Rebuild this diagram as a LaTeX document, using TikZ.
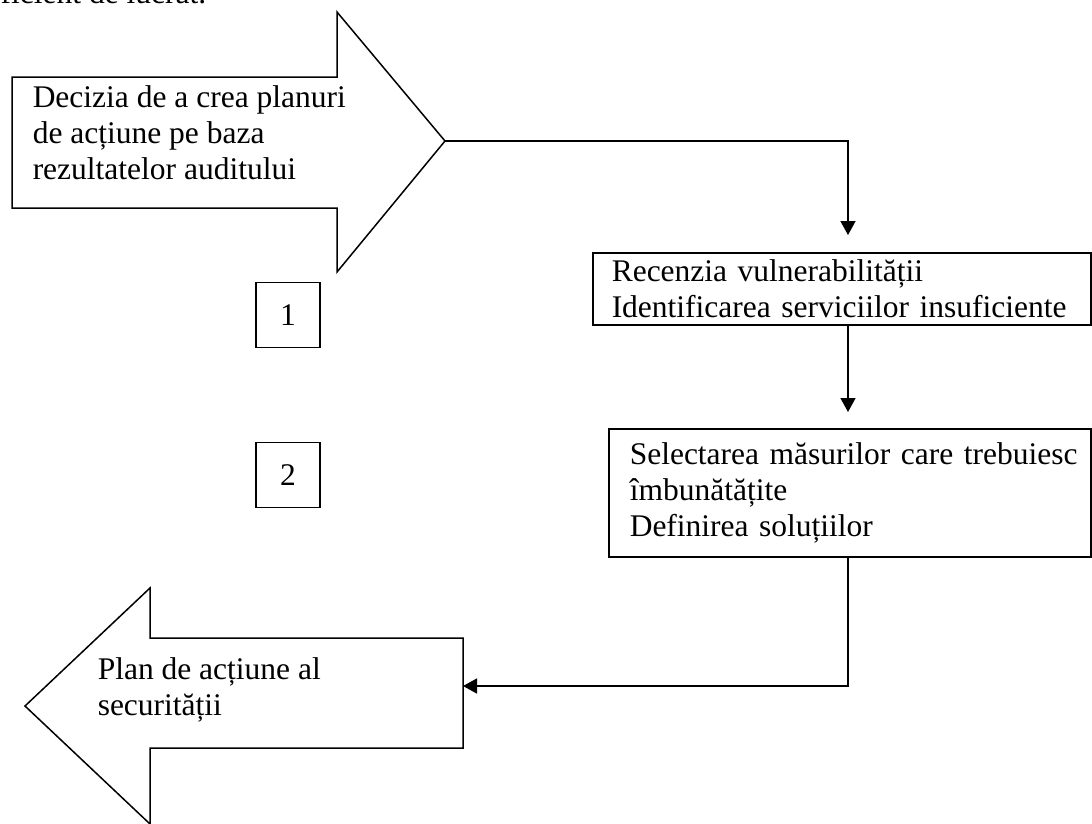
\documentclass[tikz,border=0pt]{standalone}
\usepackage{fontspec}
\setmainfont{Liberation Serif}
\usepackage{tikz}
\usetikzlibrary{arrows.meta}

\begin{document}
\begin{tikzpicture}[x=1pt,y=-1pt,line width=1.5pt,
	font=\fontsize{31.5}{36}\selectfont,
	box/.style={draw,rectangle,anchor=north west,align=left,inner ysep=0pt,inner xsep=19pt},
	nrbox/.style={draw,rectangle,minimum width=64pt,minimum height=65pt,inner sep=0pt},
	txt/.style={align=left,anchor=west,inner sep=0pt},
	flow/.style={-{Triangle[length=14pt,width=15pt]}}]
	\useasboundingbox (0,0) rectangle (1092,823);
	
	%CUT LINE AT THE TOP
	\node[anchor=base west,inner sep=0pt] (prev) at (-14,3) {eficient de lucrat.};
	
	%INPUT ARROW
	\draw (12,77) -- (337,77) -- (337,12) -- (445,141) -- (337,272) -- (337,208) -- (12,208) -- cycle;
	\coordinate (decTip) at (445,141);
	\node[txt] (decizia) at (32,133) {Decizia de a crea planuri\\de acțiune pe baza\\rezultatelor auditului};
	
	%STEPS
	\coordinate (col) at (848,0); % column of the vertical connectors
	\node[nrbox] (nr1) at (288,315) {1};
	\node[nrbox] (nr2) at (288,475) {2};
	\node[box,minimum width=498pt,minimum height=72pt,text width=460pt] (recenzia) at (592,252)
		{Recenzia vulnerabilității\\Identificarea serviciilor insuficiente};
	\node[box,minimum width=482pt,minimum height=128pt,text width=440pt,inner xsep=21pt] (selectarea) at (608,428)
		{\mbox{Selectarea măsurilor care trebuiesc}\\îmbunătățite\\Definirea soluțiilor};
	
	%OUTPUT ARROW
	\draw (463,638) -- (150,638) -- (150,588) -- (25,706) -- (150,824) -- (150,748) -- (463,748) -- cycle;
	\coordinate (planEnd) at (463,686);
	\node[txt] (plan) at (97,690) {Plan de acțiune al\\securității};
	
	%CONNECTORS
	\draw[flow,shorten >=17pt] (decTip) -| (recenzia.north -| col);
	\draw[flow,shorten >=16pt] (recenzia.south -| col) -- (selectarea.north -| col);
	\draw[flow] (selectarea.south -| col) |- (planEnd);
\end{tikzpicture}
\end{document}
